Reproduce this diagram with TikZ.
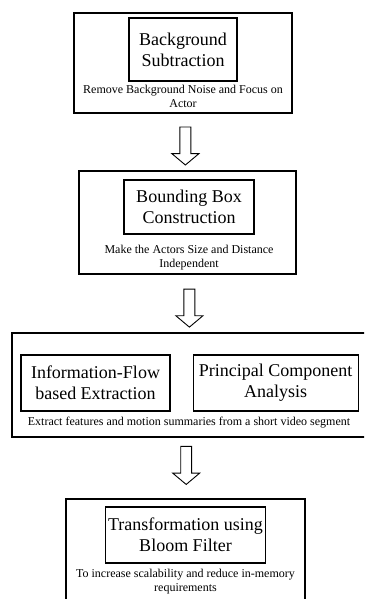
\documentclass[tikz,border=0pt]{standalone}
\usepackage{fontspec}
\setmainfont{Liberation Serif}
\usepackage{tikz}
\usetikzlibrary{shapes.arrows}
\usetikzlibrary{positioning}
\tikzstyle{stage} = [rectangle, draw=black, line width=1.2pt, inner sep=0pt]
\tikzstyle{task} = [rectangle, draw=black, line width=1.2pt, inner sep=0pt, align=center, font=\fontsize{18}{21}\selectfont]
\tikzstyle{note} = [inner sep=0pt, align=center, font=\fontsize{12}{14}\selectfont]
\tikzstyle{flow} = [single arrow, draw=black, line width=0.9pt, shape border rotate=270, minimum height=38pt, minimum width=27pt, inner sep=5pt, single arrow head extend=8pt, single arrow head indent=0pt, single arrow tip angle=100]

\begin{document}
\begin{tikzpicture}[x=1pt, y=-1pt]
                                \useasboundingbox (0,0) rectangle (364,599);
                                \clip (0,0) rectangle (364,599);
                                \node (s1) [stage, minimum width=218pt, minimum height=100pt] at (183,63) {};
                                \node (t1) [task, minimum width=108pt, minimum height=63pt, below=5pt of s1.north] {Background\\Subtraction};
                                \node (n1) [note, below=3pt of t1] {Remove Background Noise and Focus on\\Actor};
                                \node (s2) [stage, minimum width=217pt, minimum height=103pt] at (187.5,222.5) {};
                                \node (t2) [task, minimum width=130pt, minimum height=54pt, below=9pt of s2.north, xshift=1.5pt] {Bounding Box\\Construction};
                                \node (n2) [note, below=10pt of t2] {Make the Actors Size and Distance\\Independent};
                                \node (s3) [stage, minimum width=358pt, minimum height=104pt] at (191,385) {};
                                \node (t3a) [task, minimum width=149pt, minimum height=56pt, below right=22pt and 9pt of s3.north west] {Information-Flow\\based Extraction};
                                \node (t3b) [task, minimum width=165pt, minimum height=56pt, right=22pt of t3a] {Principal Component\\Analysis};
                                \node (n3) [note, below=5pt of t3a.south -| s3.center, xshift=-2pt] {Extract features and motion summaries from a short video segment};
                                \node (s4) [stage, minimum width=239pt, minimum height=113pt] at (185.5,555.5) {};
                                \node (t4) [task, minimum width=160pt, minimum height=56pt, below=8pt of s4.north] {Transformation using\\Bloom Filter};
                                \node (n4) [note, below=5pt of t4] {To increase scalability and reduce in-memory\\requirements};
                                \path (s1.south) -- node [flow, pos=0.53] (a1) {} (s2.north);
                                \path (s2.south) -- node [flow, pos=0.54] (a2) {} (s3.north);
                                \path (s3.south) -- node [flow, pos=0.42, xshift=-2.5pt] (a3) {} (s4.north);
                            \end{tikzpicture}
\end{document}
